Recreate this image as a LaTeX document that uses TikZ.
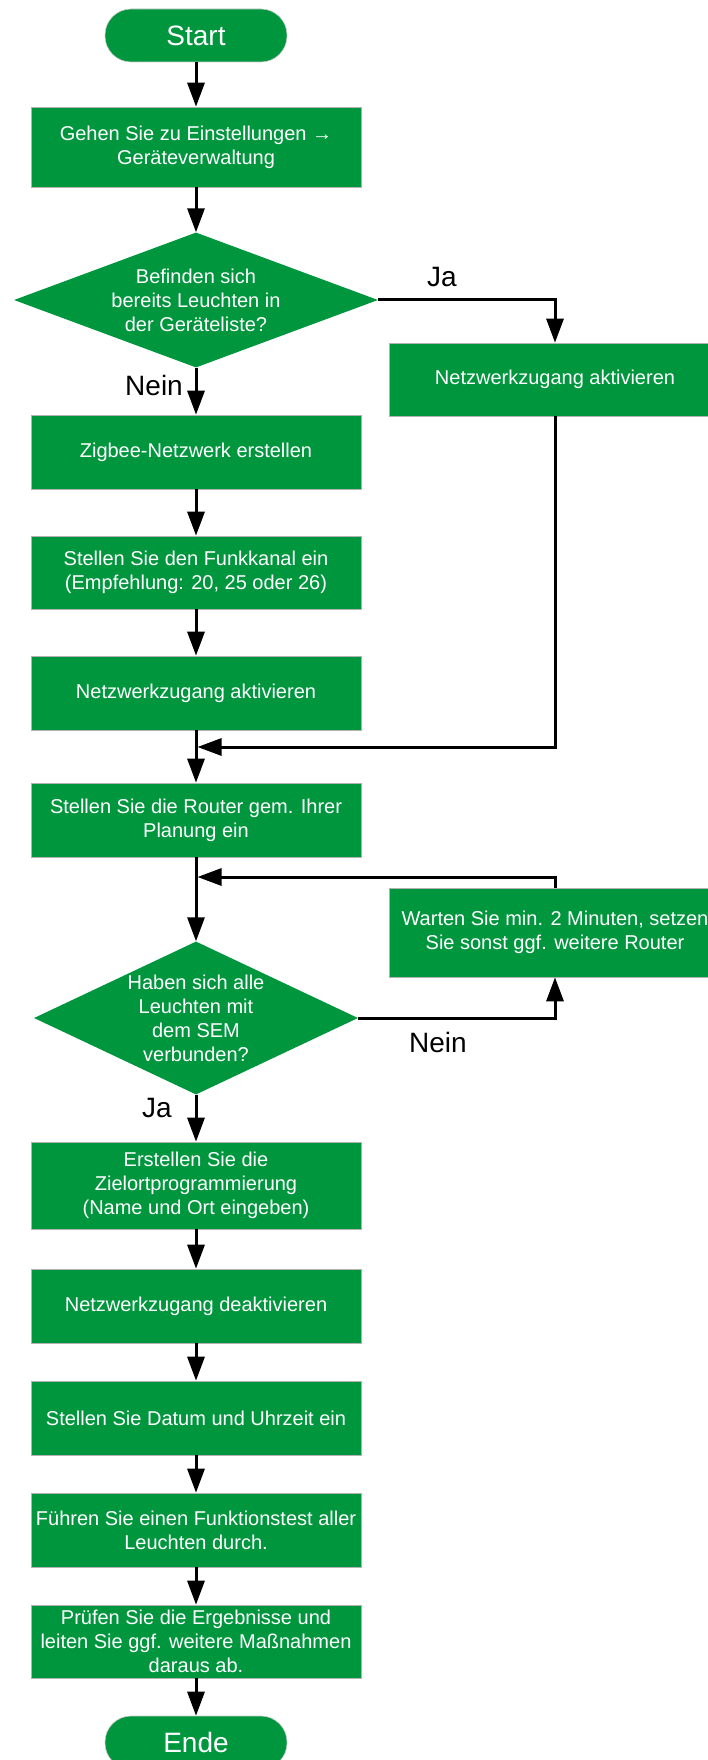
\documentclass[tikz,border=0pt]{standalone}
\usepackage{fontspec}
\setmainfont{Liberation Sans}
\usetikzlibrary{shapes.geometric,arrows.meta}
\definecolor{flowgreen}{RGB}{0,150,62}
\begin{document}
\begin{tikzpicture}[x=1pt,y=-1pt,
  box/.style={rectangle, fill=flowgreen, draw=black!30, line width=0.6pt, text=white,
    font=\fontsize{20}{24}\selectfont, align=center, minimum width=330pt, inner sep=0pt},
  sidebox/.style={box, minimum width=332pt},
  term/.style={rectangle, rounded corners=26pt, fill=flowgreen, draw=black!20, line width=0.6pt,
    text=white, font=\fontsize{28}{32}\selectfont, minimum width=182pt, minimum height=53pt, inner sep=0pt},
  dec/.style={diamond, fill=flowgreen, draw=none, text=white, inner sep=-8pt,
    font=\fontsize{20}{24}\selectfont, align=center},
  lbl/.style={font=\fontsize{28}{32}\selectfont, text=black, inner sep=0pt},
  conn/.style={line width=3pt, -{Triangle[width=17pt,length=24pt]}}
]
\useasboundingbox (0,0) rectangle (708,1760);

\node[term] (start) at (196,35.5) {Start};
\node[box, minimum height=80pt] (b1) at (196,147) {Gehen Sie zu Einstellungen →\\Geräteverwaltung};
\node[dec, aspect=2.7, minimum width=364pt, minimum height=135pt] (d1) at (196,300) {Befinden sich\\bereits Leuchten in\\der Geräteliste?};
\node[sidebox, minimum height=73pt] (r1) at (555,379.5) {Netzwerkzugang aktivieren};
\node[box, minimum height=74pt] (z) at (196,452) {Zigbee-Netzwerk erstellen};
\node[box, minimum height=73pt] (f) at (196,572.5) {Stellen Sie den Funkkanal ein\\(Empfehlung: 20, 25 oder 26)};
\node[box, minimum height=74pt] (n) at (196,693) {Netzwerkzugang aktivieren};
\node[box, minimum height=74pt] (rt) at (196,820) {Stellen Sie die Router gem. Ihrer\\Planung ein};
\node[sidebox, minimum height=89pt] (r2) at (555,932.5) {Warten Sie min. 2 Minuten, setzen\\Sie sonst ggf. weitere Router};
\node[dec, aspect=2.12, minimum width=324pt, minimum height=153pt] (d2) at (196,1018) {Haben sich alle\\Leuchten mit\\dem SEM\\verbunden?};
\node[box, minimum height=87pt] (e) at (196,1185.5) {Erstellen Sie die\\Zielortprogrammierung\\(Name und Ort eingeben)};
\node[box, minimum height=74pt] (dk) at (196,1306) {Netzwerkzugang deaktivieren};
\node[box, minimum height=74pt] (dt) at (196,1418) {Stellen Sie Datum und Uhrzeit ein};
\node[box, minimum height=74pt] (ft) at (196,1530) {Führen Sie einen Funktionstest aller\\Leuchten durch.};
\node[box, minimum height=73pt] (pr) at (196,1641.5) {Prüfen Sie die Ergebnisse und\\leiten Sie ggf. weitere Maßnahmen\\daraus ab.};
\node[term] (end) at (196,1742.5) {Ende};

\node[lbl] (ja1) at (442,277) {Ja};
\node[lbl, anchor=east] (nein1) at (183,385) {Nein};
\node[lbl] (nein2) at (438,1042) {Nein};
\node[lbl] (ja2) at (157,1108) {Ja};

\coordinate (m1) at (196,747);
\coordinate (m2) at (196,877);

\draw[conn] (start) -- (b1);
\draw[conn] (b1) -- (d1);
\draw[conn] (d1.east) -| (r1.north);
\draw[conn] (d1) -- (z);
\draw[conn] (z) -- (f);
\draw[conn] (f) -- (n);
\draw[conn] (n) -- (rt);
\draw[conn, shorten >=1.5pt] (r1.south) |- (m1);
\draw[conn] (rt) -- (d2);
\draw[conn, shorten >=1.5pt] (r2.north) |- (m2);
\draw[conn] (d2.east) -| (r2.south);
\draw[conn] (d2) -- (e);
\draw[conn] (e) -- (dk);
\draw[conn] (dk) -- (dt);
\draw[conn] (dt) -- (ft);
\draw[conn] (ft) -- (pr);
\draw[conn] (pr) -- (end);
\end{tikzpicture}
\end{document}
